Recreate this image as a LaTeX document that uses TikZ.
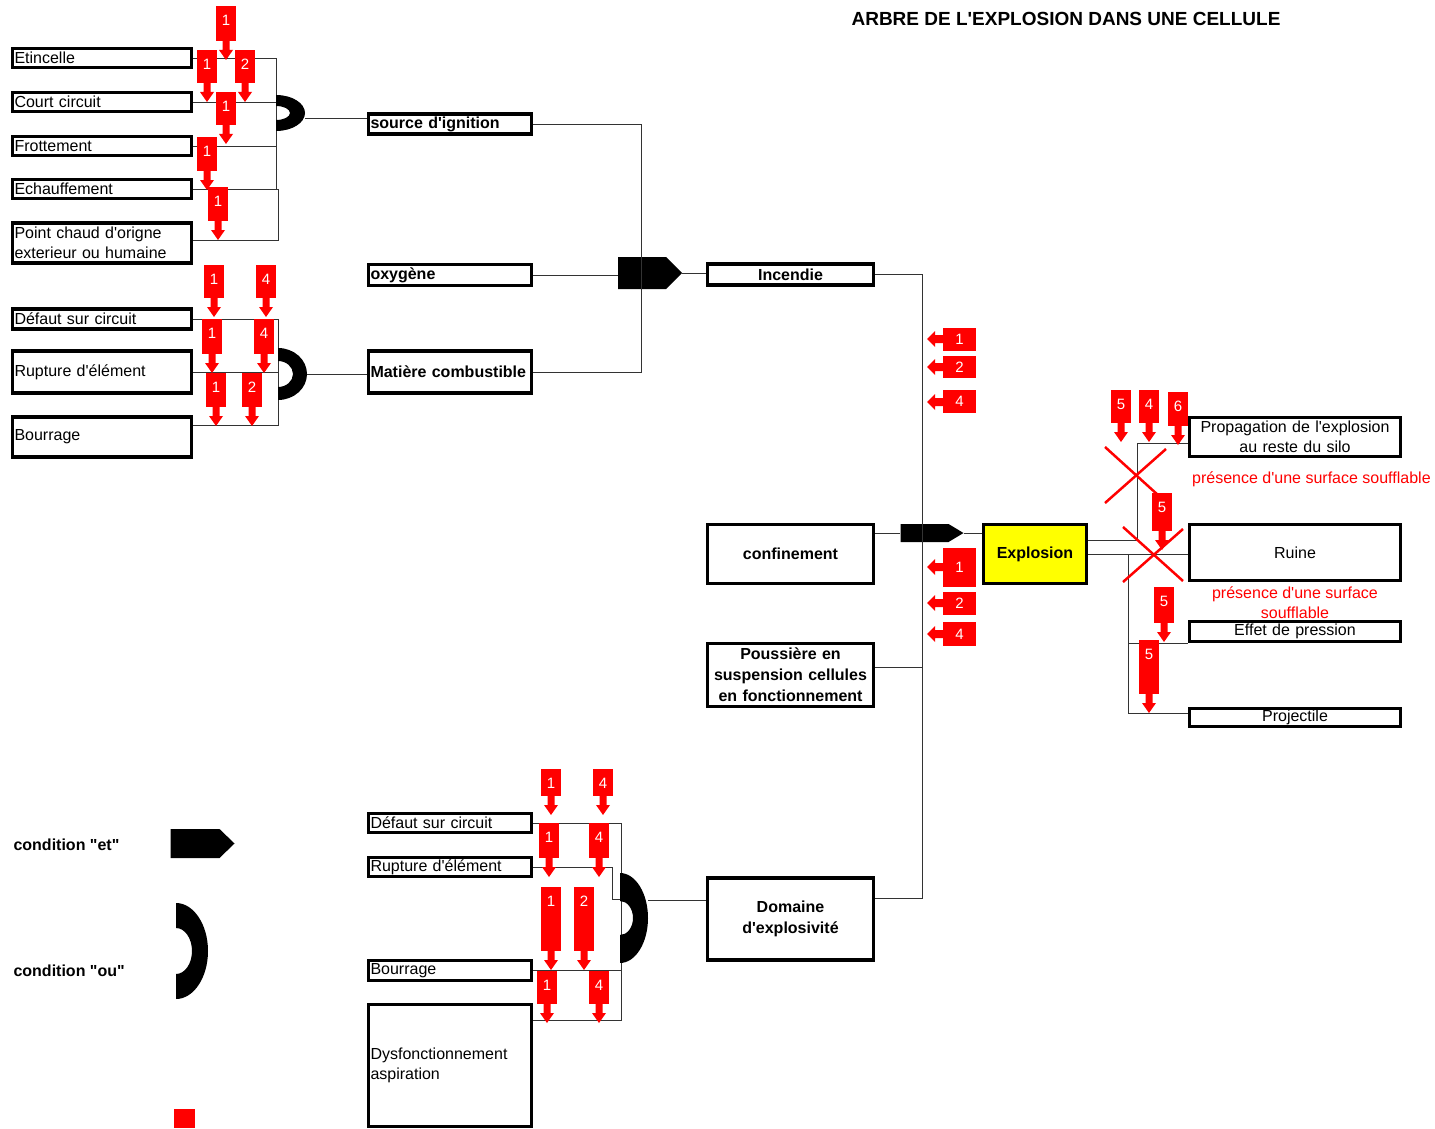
\documentclass[tikz,border=0pt]{standalone}
\usepackage{fontspec}
\setmainfont{Liberation Sans}[Ligatures=TeXOff]
\usetikzlibrary{shapes.symbols}
\definecolor{rouge}{RGB}{255,0,0}
\definecolor{jaune}{RGB}{255,255,0}
% etiquette rouge vers le bas : x, haut, pointe, chiffre
\newcommand{\fleche}[4]{%
  \fill[rouge] (#1-10,#2) rectangle (#1+10,#3-19);
  \fill[rouge] (#1-3.5,#3-20) -- (#1+3.5,#3-20) -- (#1+3.5,#3-10) -- (#1+7,#3-10)
    -- (#1,#3) -- (#1-7,#3-10) -- (#1-3.5,#3-10) -- cycle;
  \node[chiffre] at (#1,#2+14) {#4};}
% etiquette rouge vers la gauche : y fleche, haut, bas, chiffre
\newcommand{\flecheg}[4]{%
  \fill[rouge] (943,#2) rectangle (976,#3);
  \fill[rouge] (944,#1-4) -- (935,#1-4) -- (935,#1-8) -- (927,#1) -- (935,#1+8)
    -- (935,#1+4) -- (944,#1+4) -- cycle;
  \node[chiffre] at (959.5,#2/2+#3/2) {#4};}
% porte "ou" : x, y, rx ext, ry ext, rx int, ry int
\newcommand{\porteou}[6]{%
  \fill (#1,#2-#4) .. controls (#1+0.552*#3,#2-#4) and (#1+#3,#2-0.552*#4) .. (#1+#3,#2)
    .. controls (#1+#3,#2+0.552*#4) and (#1+0.552*#3,#2+#4) .. (#1,#2+#4)
    -- (#1,#2+#6) .. controls (#1+0.552*#5,#2+#6) and (#1+#5,#2+0.552*#6) .. (#1+#5,#2)
    .. controls (#1+#5,#2-0.552*#6) and (#1+0.552*#5,#2-#6) .. (#1,#2-#6) -- cycle;}
\begin{document}
\begin{tikzpicture}[x=1pt,y=-1pt,
  fil/.style={line width=0.9pt,black!80},
  boite/.style={draw,line width=3.4pt,inner sep=0pt,font=\fontsize{16}{20}\selectfont},
  gauche/.style 2 args={boite,align=left,inner xsep=2pt,text width=#1,minimum height=#2},
  centre/.style 2 args={boite,align=center,inner xsep=2pt,text width=#1,minimum height=#2},
  gras/.style={font=\fontsize{16}{21}\selectfont\bfseries},
  et/.style={signal,signal to=east,fill=black,inner sep=0pt},
  chiffre/.style={text=white,font=\fontsize{15}{18}\selectfont,inner sep=0pt},
  croix/.style={rouge,line width=2.5pt},
  avert/.style={text=rouge,font=\fontsize{16}{20}\selectfont,align=center,inner sep=0pt}]
  \useasboundingbox (0,0) rectangle (1435,1129);
  \node[font=\fontsize{19}{22}\selectfont\bfseries] (titre) at (1066,19) {ARBRE DE L'EXPLOSION DANS UNE CELLULE};

  % source d'ignition
  \node[gauche={175pt}{19pt}] (etincelle) at (102,58) {Etincelle};
  \node[gauche={175pt}{19pt}] (court) at (102,102) {Court circuit};
  \node[gauche={175pt}{19pt}] (frottement) at (102,146) {Frottement};
  \node[gauche={175pt}{19pt}] (echauffement) at (102,189) {Echauffement};
  \node[gauche={175pt}{40pt}] (pointchaud) at (102,243) {Point chaud d'origne\\exterieur ou humaine};
  % matiere combustible
  \node[gauche={175pt}{20pt}] (defaut1) at (102,319) {Défaut sur circuit};
  \node[gauche={175pt}{42pt}] (rupture1) at (102,372) {Rupture d'élément};
  \node[gauche={175pt}{40pt}] (bourrage1) at (102,437) {Bourrage};

  \node[gauche={159pt}{20pt},gras] (ignition) at (450,124) {source d'ignition};
  \node[gauche={159pt}{21pt},gras] (oxygene) at (450,275) {oxygène};
  \node[gauche={159pt}{42pt},gras] (matiere) at (450,372) {Matière combustible};

  \node[centre={162pt}{21pt},gras] (incendie) at (790.5,274.5) {Incendie};
  \node[centre={162pt}{59pt},gras] (confinement) at (790.5,554) {confinement};
  \node[centre={162pt}{63pt},gras] (poussiere) at (790.5,675) {Poussière en\\suspension cellules\\en fonctionnement};
  \node[centre={162pt}{82pt},gras] (domaine) at (790.5,919) {Domaine\\d'explosivité};
  \node[centre={99pt}{59pt},gras,fill=jaune] (explosion) at (1035,554) {Explosion};

  % consequences
  \node[centre={207pt}{39pt}] (propagation) at (1295,437) {Propagation de l'explosion\\au reste du silo};
  \node[centre={207pt}{56pt}] (ruine) at (1295,552.5) {Ruine};
  \node[centre={207pt}{20pt}] (effet) at (1295,631.5) {Effet de pression};
  \node[centre={207pt}{18pt}] (projectile) at (1295,717.5) {Projectile};
  \node[avert,anchor=west] (souffl1) at (1192,479) {présence d'une surface soufflable};
  \node[avert] (souffl2) at (1295,603) {présence d'une surface\\soufflable};

  % domaine d'explosivite
  \node[gauche={159pt}{19pt}] (defaut2) at (450,823) {Défaut sur circuit};
  \node[gauche={159pt}{19pt}] (rupture2) at (450,867) {Rupture d'élément};
  \node[gauche={159pt}{20pt}] (bourrage2) at (450,970.5) {Bourrage};
  \node[gauche={159pt}{122pt}] (dysf) at (450,1065.5) {Dysfonctionnement\\aspiration};

  % portes "et"
  \node[et,minimum width=64pt,minimum height=32pt,signal pointer angle=90] (et1) at (642,273) {};
  \node[et,minimum width=63pt,minimum height=18pt,signal pointer angle=62] (et2) at (924.5,533) {};
  \node[et,minimum width=64pt,minimum height=29pt,signal pointer angle=88] (etleg) at (195,843.5) {};

  % legende
  \node[gras,anchor=west] (legende1) at (10,845) {condition "et"};
  \node[gras,anchor=west] (legende2) at (10,971) {condition "ou"};
  \fill[rouge] (174,1109) rectangle (195,1128);

  % liaisons
  \coordinate (g1b) at (276,189);
  \coordinate (g1c) at (278,240);
  \draw[fil] (etincelle.east) -| (g1b) -- (echauffement.east);
  \draw[fil] (court.east) -- (court.east -| g1b);
  \draw[fil] (frottement.east) -- (frottement.east -| g1b);
  \draw[fil] (echauffement.east) -| (g1c) -- (g1c -| pointchaud.east);
  \coordinate (ou1) at (305,118);
  \draw[fil] (ou1) -- (ou1 -| ignition.west);

  \coordinate (g2b) at (278,425);
  \draw[fil] (defaut1.east) -| (g2b) -- (g2b -| bourrage1.east);
  \draw[fil] (rupture1.east) -- (rupture1.east -| g2b);
  \coordinate (ou2) at (307,374);
  \draw[fil] (ou2) -- (ou2 -| matiere.west);

  \coordinate (bus2) at (641,0);
  \draw[fil] (ignition.east) -| (bus2 |- matiere.east) -- (matiere.east);
  \draw[fil] (oxygene.east) -- (oxygene.east -| et1.west);
  \draw[fil] (et1.east) -- (et1.east -| incendie.west);

  \coordinate (g3b) at (621,1020);
  \draw[fil] (defaut2.east) -| (g3b) -- (g3b -| dysf.east);
  \draw[fil] (bourrage2.east) -- (bourrage2.east -| g3b);
  \draw[fil] (rupture2.east) -| (612,899) -- (621,899);
  \coordinate (ou3) at (648,900);
  \draw[fil] (ou3) -- (ou3 -| domaine.west);

  \coordinate (bus4) at (922,898);
  \draw[fil] (incendie.east) -| (bus4) -- (bus4 -| domaine.east);
  \draw[fil] ([yshift=8pt]poussiere.east) -- ([yshift=8pt]poussiere.east -| bus4);
  \draw[fil] (confinement.east |- et2.west) -- (et2.west);
  \draw[fil] (et2.east) -- (et2.east -| explosion.west);

  \coordinate (g5a) at (1137,443);
  \coordinate (g5b) at (1128,713);
  \draw[fil] ([yshift=14pt]explosion.east) -| (g5a) -- (g5a -| propagation.west);
  \draw[fil] (explosion.east) -- (explosion.east -| ruine.west);
  \draw[fil] (explosion.east -| g5b) -- (g5b) -- (g5b -| projectile.west);
  \draw[fil] (g5b |- effet.south west) -- (effet.south west);

  % portes "ou"
  \porteou{276}{113}{29}{18}{14}{7}
  \porteou{278}{374}{29}{26}{15}{13}
  \porteou{620}{918}{28}{45}{13}{17}
  \porteou{176}{951}{32}{48}{16}{23}

  % croix
  \draw[croix] (1105,447) -- (1169,505);
  \draw[croix] (1105,503) -- (1166,449);
  \draw[croix] (1123,527) -- (1183,581);
  \draw[croix] (1123,582) -- (1183,529);

  % etiquettes
  \foreach \x/\h/\p/\n in {226/6/60/1, 207/50/102/1, 245/50/102/2, 226/92/144/1,
      207/137/190/1, 218/187/240/1, 214/265/317/1, 266/265/317/4, 212/319/373/1,
      264/319/373/4, 216/373/426/1, 252/373/426/2, 551/769/815/1, 603/769/815/4,
      549/823/877/1, 599/823/877/4, 551/887/970/1, 584/887/970/2, 547/971/1023/1,
      599/971/1023/4, 1121/390/442/5, 1149/390/442/4, 1178/392/445/6,
      1162/493/550/5, 1164/587/642/5, 1149/640/713/5}
    {\fleche{\x}{\h}{\p}{\n}}
  \foreach \y/\h/\b/\n in {339/328/351/1, 367/356/378/2, 402/390/413/4,
      567/548/587/1, 603/592/615/2, 634/622/646/4}
    {\flecheg{\y}{\h}{\b}{\n}}
\end{tikzpicture}
\end{document}
